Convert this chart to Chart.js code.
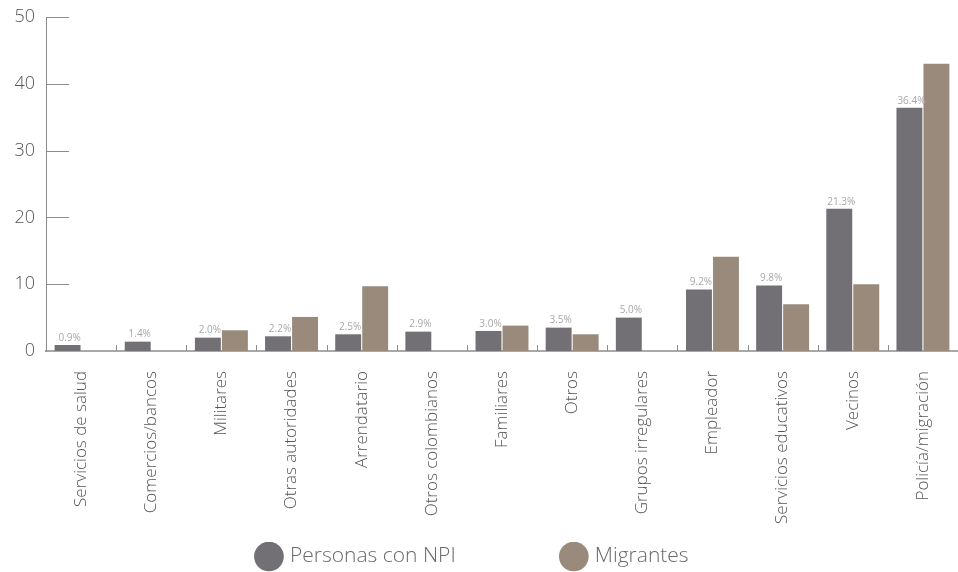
<!DOCTYPE html>
<html>
<head>
<meta charset="utf-8">
<script src="https://cdn.jsdelivr.net/npm/chart.js@4.4.0/dist/chart.umd.min.js"></script>
<style>
  html, body { margin: 0; padding: 0; background: #fff; }
  #wrap { width: 958px; height: 572px; }
</style>
</head>
<body>
<div id="wrap"><canvas id="grafico"></canvas></div>
<script>
const categorias = [
    "Servicios de salud", "Comercios/bancos", "Militares", "Otras autoridades",
    "Arrendatario", "Otros colombianos", "Familiares", "Otros",
    "Grupos irregulares", "Empleador", "Servicios educativos", "Vecinos",
    "Policía/migración",
];
const personasNPI = [0.9, 1.4, 2.0, 2.2, 2.5, 2.9, 3.0, 3.5, 5.0, 9.2, 9.8, 21.3, 36.4];
const migrantes = [0, 0, 3.1, 5.1, 9.7, 0, 3.8, 2.5, 0, 14.1, 7.0, 10.0, 43.0];
const ticksY = [0, 10, 20, 30, 40, 50];

const gris = "#727075";
const cafe = "#998a7b";
const fuente = "'Open Sans', 'Noto Sans', sans-serif";
const tamLeyenda = 21;

// marcas cortas dentro del area y etiquetas de porcentaje
const marcas = {
    id: "marcas",
    afterLayout(chart) {
        // bajar un poco la leyenda
        if (chart.legend) {
            chart.legend.top += 5;
            chart.legend.bottom += 5;
        }
    },
    afterDatasetsDraw(chart) {
        const ctx = chart.ctx;
        const area = chart.chartArea;
        const y = chart.scales.y;
        ctx.save();
        ctx.strokeStyle = "#8c8c8c";
        ctx.lineWidth = 1;
        ticksY.forEach((v) => {
            if (v === 0) return;
            const py = Math.round(y.getPixelForValue(v)) + 0.5;
            ctx.beginPath();
            ctx.moveTo(area.left, py);
            ctx.lineTo(area.left + 23, py);
            ctx.stroke();
        });
        const paso = (area.right - area.left) / categorias.length;
        for (let i = 1; i < categorias.length; i++) {
            const px = Math.round(area.left + paso * i) + 0.5;
            ctx.beginPath();
            ctx.moveTo(px, area.bottom - 6);
            ctx.lineTo(px, area.bottom);
            ctx.stroke();
        }
        ctx.fillStyle = "#a8a8a8";
        ctx.font = "10px " + fuente;
        ctx.textAlign = "center";
        ctx.textBaseline = "bottom";
        chart.getDatasetMeta(0).data.forEach((bar, i) => {
            ctx.fillText(personasNPI[i].toFixed(1) + "%", bar.x + 2, bar.y - 2);
        });
        ctx.restore();
    },
};

// espacio extra entre las dos entradas de la leyenda
function etiquetasLeyenda(chart) {
    const items = Chart.defaults.plugins.legend.labels.generateLabels(chart);
    const ctx = chart.ctx;
    ctx.save();
    ctx.font = tamLeyenda + "px " + fuente;
    const ancho = ctx.measureText(items[0].text).width;
    const esp = ctx.measureText(" ").width || 5;
    ctx.restore();
    const falta = 314 - (26 + tamLeyenda / 2 + 4 + ancho);
    if (falta > 0) items[0].text += " ".repeat(Math.round(falta / esp));
    items[1].text += " ".repeat(Math.round(10 / esp));
    return items;
}

const data = {
    labels: categorias,
    datasets: [
        {
            label: "Personas con NPI",
            data: personasNPI,
            backgroundColor: gris,
        },
        {
            label: "Migrantes",
            data: migrantes,
            backgroundColor: cafe,
        },
    ],
};

const config = {
    type: "bar",
    data: data,
    options: {
        responsive: true,
        maintainAspectRatio: false,
        animation: false,
        categoryPercentage: 0.77,
        barPercentage: 0.96,
        layout: { padding: { top: 17, right: 0, left: 0, bottom: 0 } },
        plugins: {
            tooltip: { enabled: false },
            legend: {
                position: "bottom",
                labels: {
                    usePointStyle: true,
                    pointStyle: "circle",
                    boxWidth: 26,
                    boxHeight: 26,
                    padding: 4,
                    color: "#6a6a6a",
                    font: { family: fuente, size: tamLeyenda, weight: "300" },
                    generateLabels: etiquetasLeyenda,
                },
            },
        },
        scales: {
            x: {
                grid: { display: false, drawTicks: false },
                border: { display: true, color: "#a8a8a8", width: 2 },
                ticks: {
                    minRotation: 90,
                    maxRotation: 90,
                    padding: 20,
                    color: "#555",
                    font: { family: fuente, size: 17, weight: "300" },
                },
                afterFit(scale) {
                    scale.height = 186;
                    scale.paddingLeft = 0;
                    scale.paddingRight = 0;
                },
            },
            y: {
                min: 0,
                max: 50,
                grid: { display: false, drawTicks: false },
                border: { display: true, color: "#8c8c8c", width: 1 },
                ticks: {
                    stepSize: 10,
                    padding: 11,
                    color: "#555",
                    font: { family: fuente, size: 18, weight: "300" },
                },
                afterFit(scale) {
                    scale.width = 46;
                    scale.paddingTop = 0;
                    scale.paddingBottom = 0;
                },
            },
        },
    },
    plugins: [marcas],
};

const grafico = new Chart(document.getElementById("grafico"), config);
</script>
</body>
</html>
